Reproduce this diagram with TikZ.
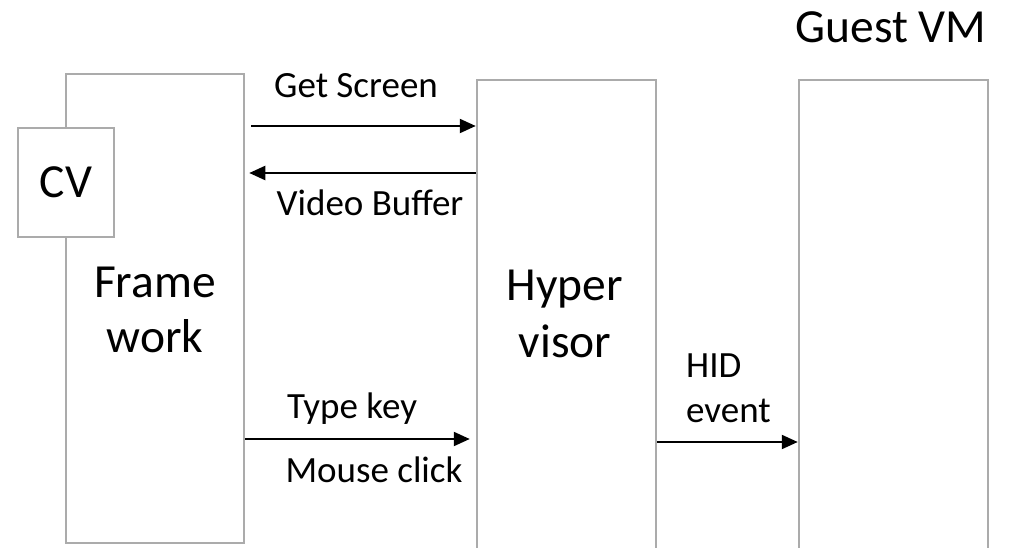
\documentclass[tikz,border=0pt]{standalone}
\usepackage{fontspec}
\setmainfont{Carlito}
\usetikzlibrary{arrows.meta}
\definecolor{boxgray}{HTML}{ABABAB}
\tikzset{
  box/.style={draw=boxgray, line width=2.5pt, fill=white, inner sep=0pt},
  arr/.style={draw=black, line width=2.2pt, -{Triangle[length=16pt,width=14pt]}},
  small/.style={font=\fontsize{37}{44}\selectfont, inner sep=0pt, anchor=base},
  big/.style={font=\fontsize{47.5}{56}\selectfont, inner sep=0pt, anchor=base, align=center},
}
\begin{document}
\begin{tikzpicture}[x=1pt,y=-1pt]
\clip (0,0) rectangle (1012,548);
\fill[white] (0,0) rectangle (1012,548);
% boxes
\node[box, minimum width=178pt, minimum height=469pt] (fw) at (155,308.5) {};
\node[box, minimum width=96pt, minimum height=109pt] (cv) at (66,182.5) {};
\node[box, minimum width=179pt, minimum height=500pt] (hv) at (566.5,330) {};
\node[box, minimum width=189pt, minimum height=500pt] (vm) at (893.5,330) {};
% texts
\node[big] (cvt) at (66,198) {CV};
\node[big] (fwt1) at (155,297) {Frame};
\node[big] (fwt2) at (155,352) {work};
\node[big] (hvt1) at (565,300) {Hyper};
\node[big] (hvt2) at (565,357) {visor};
\node[big] (vmt) at (891,43) {Guest VM};
\node[small] (gs) at (356,98) {Get Screen};
\node[small] (vb) at (370,215) {Video Buffer};
\node[small] (tk) at (352,418) {Type key};
\node[small] (mc) at (374,482) {Mouse click};
\node[small, anchor=base west] (hid1) at (686,377) {HID};
\node[small, anchor=base west] (hid2) at (686,422) {event};
% connectors
\draw[arr] ([xshift=6pt]fw.east |- 0,126) -- (hv.west |- 0,126);
\draw[arr] (hv.west |- 0,173) -- ([xshift=4pt]fw.east |- 0,173);
\draw[arr] (fw.east |- 0,439) -- ([xshift=-6pt]hv.west |- 0,439);
\draw[arr] (hv.east |- 0,442) -- (vm.west |- 0,442);
\end{tikzpicture}
\end{document}
